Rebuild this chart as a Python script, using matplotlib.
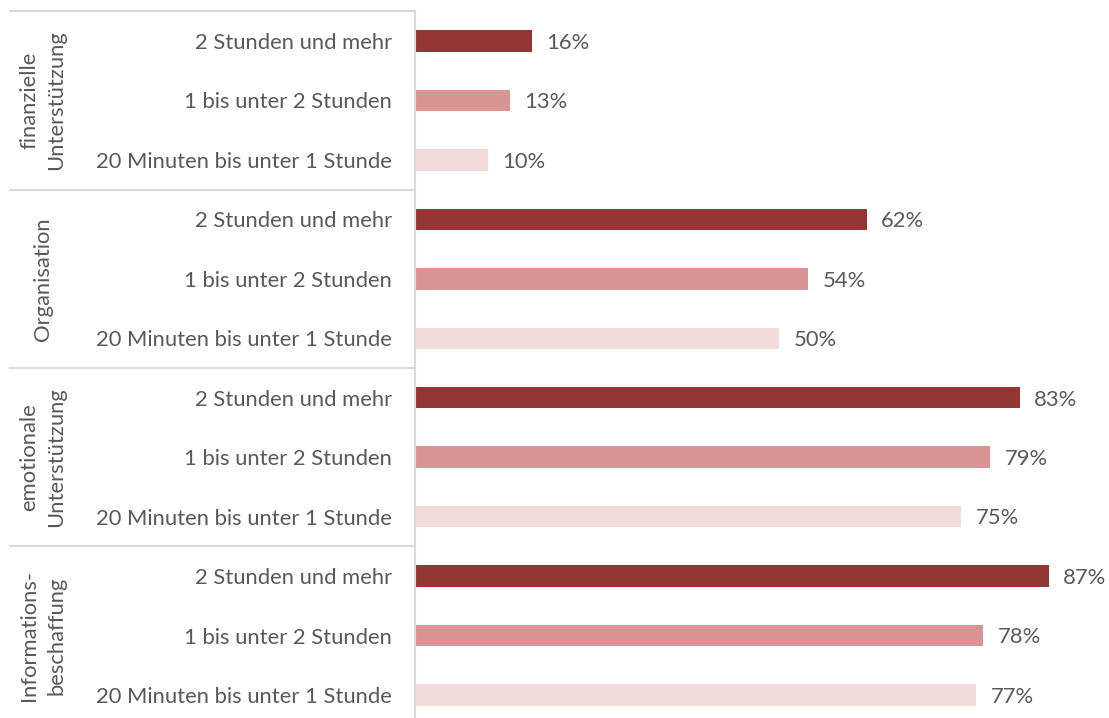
import matplotlib
matplotlib.use("Agg")
import matplotlib.pyplot as plt
import matplotlib.transforms as mtransforms
from matplotlib.lines import Line2D

groups = ["finanzielle\nUnterstützung", "Organisation", "emotionale\nUnterstützung", "Informations-\nbeschaffung"]
durations = ["2 Stunden und mehr", "1 bis unter 2 Stunden", "20 Minuten bis unter 1 Stunde"]
values = {
    "finanzielle\nUnterstützung": [16, 13, 10],
    "Organisation": [62, 54, 50],
    "emotionale\nUnterstützung": [83, 79, 75],
    "Informations-\nbeschaffung": [87, 78, 77],
}
colors = ["#943634", "#D99594", "#F2DBDB"]
text_color = "#595959"
font = "Lato"
fs = 15.8

W, H = 1109, 718
fig = plt.figure(figsize=(W / 100, H / 100), dpi=100)
left_px, top_px, bottom_px, right_px = 415, 11.3, 724.7, 1107
ax = fig.add_axes([left_px / W, (H - bottom_px) / H, (right_px - left_px) / W, (bottom_px - top_px) / H])

ylabels = []
ypos = []
i = 0
for g in groups:
    for j, d in enumerate(durations):
        v = values[g][j]
        ax.barh(i, v, height=0.36, color=colors[j])
        ax.text(v + 2.0, i + 0.03, f"{v}%", va="center", ha="left", fontsize=fs, color=text_color, family=font)
        ylabels.append(d)
        ypos.append(i)
        i += 1

ax.set_xlim(0, 95)
ax.set_ylim(11.5, -0.5)
ax.set_yticks(ypos)
ax.set_yticklabels(ylabels, fontsize=fs, color=text_color, family=font)
ax.tick_params(axis="y", length=0, pad=16.5)
ax.set_xticks([])
for s in ["top", "right", "bottom"]:
    ax.spines[s].set_visible(False)
ax.spines["left"].set_color("#D9D9D9")
ax.spines["left"].set_linewidth(1.5)

trans = mtransforms.blended_transform_factory(fig.transFigure, ax.transData)
for k in range(len(groups) + 1):
    yb = k * 3 - 0.5
    ax.add_line(Line2D([10 / W, left_px / W], [yb, yb], transform=trans, color="#D9D9D9",
                       linewidth=1.5, clip_on=False))
for k, g in enumerate(groups):
    ax.text(43 / W, k * 3 + 1, g, transform=trans, rotation=90, ha="center", va="center",
            fontsize=fs, color=text_color, family=font, multialignment="center", linespacing=1.45)

fig.savefig("out.png", dpi=100)
